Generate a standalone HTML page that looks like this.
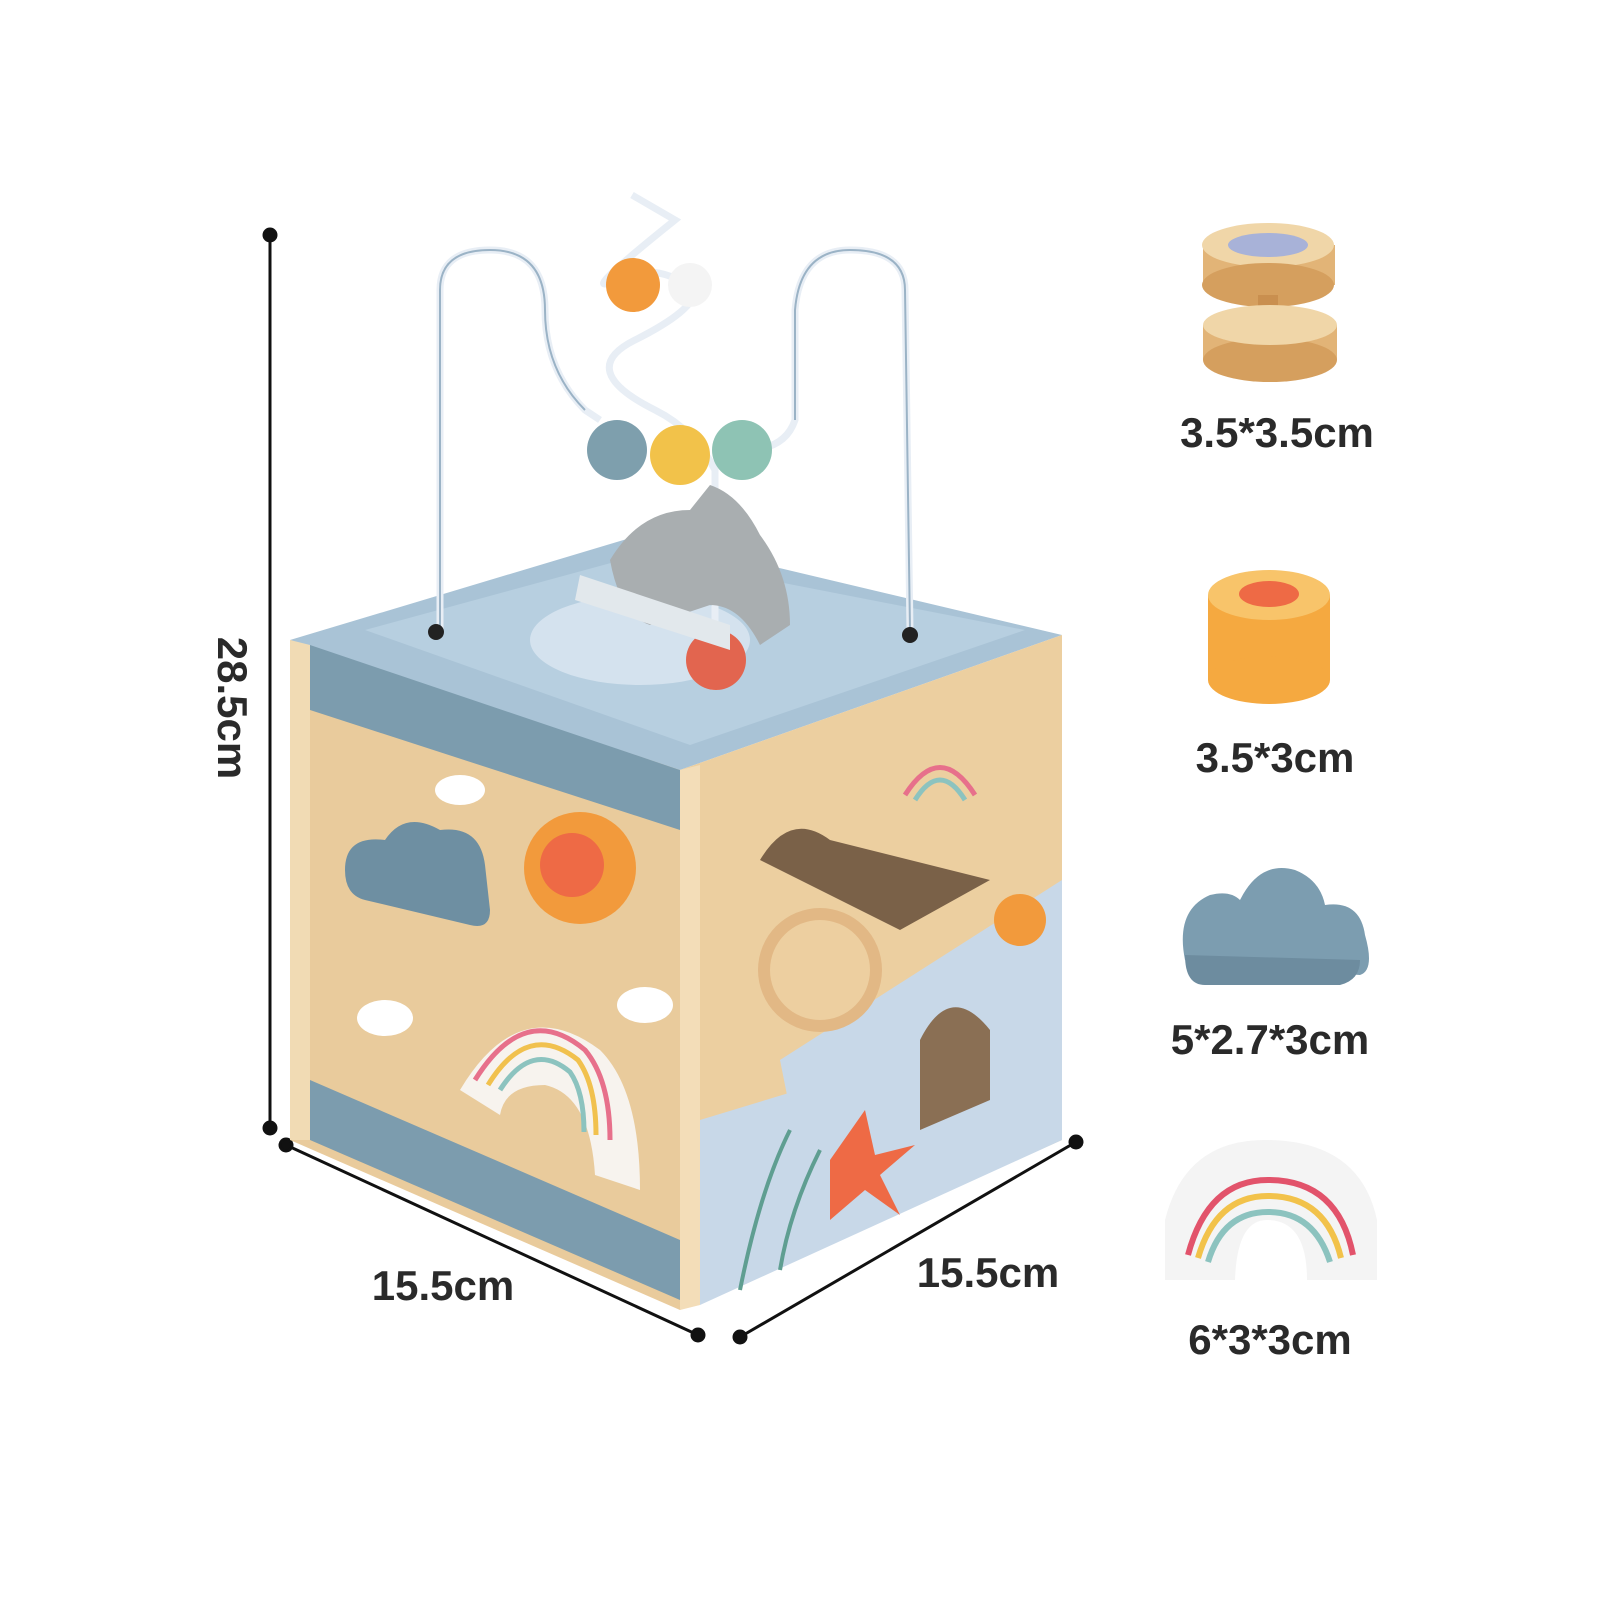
<!DOCTYPE html>
<html><head><meta charset="utf-8"><style>
html,body{margin:0;padding:0;background:#fff;}
svg{display:block;}
text{font-family:"Liberation Sans",sans-serif;font-weight:bold;fill:#2a2a2a;}
</style></head><body>
<svg width="1600" height="1600" viewBox="0 0 1600 1600" xmlns="http://www.w3.org/2000/svg">
<rect width="1600" height="1600" fill="#fff"/>
<g stroke="#111" stroke-width="3" fill="#111">
<line x1="270" y1="235" x2="270" y2="1128"/>
<circle cx="270" cy="235" r="6"/><circle cx="270" cy="1128" r="6"/>
<line x1="286" y1="1145" x2="698" y2="1335"/>
<circle cx="286" cy="1145" r="6"/><circle cx="698" cy="1335" r="6"/>
<line x1="740" y1="1337" x2="1076" y2="1142"/>
<circle cx="740" cy="1337" r="6"/><circle cx="1076" cy="1142" r="6"/>
</g>
<text x="232" y="708" font-size="42" text-anchor="middle" transform="rotate(90 232 708)" dy="14">28.5cm</text>
<text x="443" y="1300" font-size="42" text-anchor="middle">15.5cm</text>
<text x="988" y="1287" font-size="42" text-anchor="middle">15.5cm</text>

<polygon points="290,640 640,535 1062,635 680,770" fill="#a9c3d6"/>
<polygon points="365,630 640,555 1025,630 690,745" fill="#b7cfe0"/>
<ellipse cx="640" cy="640" rx="110" ry="45" fill="#d4e2ee"/>
<polygon points="290,640 680,770 680,1310 290,1140" fill="#e9cb9c"/>
<polygon points="310,645 680,770 680,830 310,710" fill="#7c9cae"/>
<polygon points="310,1080 680,1240 680,1300 310,1140" fill="#7c9cae"/>
<polygon points="290,640 310,645 310,1140 290,1140" fill="#f1dbb4"/>
<path d="M345,870 q0,-35 40,-30 q20,-30 55,-10 q40,-5 45,35 l5,45 q0,20 -20,15 l-105,-25 q-20,-5 -20,-30z" fill="#6e8fa2"/>
<circle cx="580" cy="868" r="56" fill="#f29a3c"/>
<circle cx="572" cy="865" r="32" fill="#ee6a45"/>
<ellipse cx="460" cy="790" rx="25" ry="15" fill="#fff"/>
<ellipse cx="385" cy="1018" rx="28" ry="18" fill="#fff"/>
<ellipse cx="645" cy="1005" rx="28" ry="18" fill="#fff"/>
<path d="M460,1090 q60,-100 140,-40 q40,40 40,140 l-45,-15 q-5,-80 -50,-90 q-40,0 -45,30z" fill="#f7f3ee"/>
<path d="M475,1080 q50,-80 110,-30 q25,30 25,90" fill="none" stroke="#e7708b" stroke-width="5"/>
<path d="M488,1085 q40,-65 90,-25 q18,25 18,75" fill="none" stroke="#f1c14e" stroke-width="5"/>
<path d="M500,1090 q32,-50 70,-18 q14,20 14,60" fill="none" stroke="#8cc3bf" stroke-width="5"/>
<polygon points="680,770 1062,635 1062,1140 680,1310" fill="#eccfa0"/>
<polygon points="700,1120 1062,1010 1062,1140 700,1305" fill="#c8d8e8"/>
<polygon points="780,1060 1062,880 1062,1020 790,1110" fill="#c8d8e8"/>
<polygon points="680,770 700,765 700,1305 680,1310" fill="#f3ddb8"/>
<path d="M760,860 q30,-50 70,-20 l160,40 -90,50z" fill="#7a6148"/>
<path d="M920,1130 l0,-90 q30,-60 70,-10 l0,70z" fill="#8a6f54"/>
<circle cx="820" cy="970" r="62" fill="#e2b885"/>
<circle cx="820" cy="970" r="50" fill="#edcfa0"/>
<path d="M905,795 q35,-55 70,0" fill="none" stroke="#e7708b" stroke-width="5"/>
<path d="M915,800 q25,-40 50,0" fill="none" stroke="#8cc3bf" stroke-width="5"/>
<circle cx="1020" cy="920" r="26" fill="#f29a3c"/>
<path d="M830,1160 l35,-50 l10,45 l40,-10 l-35,30 l20,40 l-35,-25 l-35,30 z" fill="#ee6a45"/>
<path d="M740,1290 q20,-100 50,-160 M780,1270 q10,-60 40,-120" fill="none" stroke="#5f9e91" stroke-width="4"/>
<g fill="none" stroke="#e8eef5" stroke-width="7">
<path d="M440,630 L440,290 q0,-40 50,-40 q55,0 55,60 q0,60 40,100 L600,420"/>
<path d="M910,630 L905,290 q0,-40 -55,-40 q-50,0 -55,60 l0,110 q-10,30 -50,30"/>
<path d="M715,690 L715,470 q-20,-40 -60,-60 q-80,-40 -20,-70 q60,-30 60,-50 q-40,-30 -80,-10 q-40,20 60,-60 L632,195"/>
</g>
<g stroke="#9bb3c6" stroke-width="2" fill="none">
<path d="M440,630 L440,290 q0,-40 50,-40 q55,0 55,60 q0,60 40,100"/>
<path d="M910,630 L905,290 q0,-40 -55,-40 q-50,0 -55,60 l0,110"/>
</g>
<circle cx="617" cy="450" r="30" fill="#7e9fad"/>
<circle cx="680" cy="455" r="30" fill="#f2c24a"/>
<circle cx="742" cy="450" r="30" fill="#8ec3b4"/>
<circle cx="633" cy="285" r="27" fill="#f29a3c"/>
<circle cx="690" cy="285" r="22" fill="#f4f4f4"/>
<circle cx="716" cy="660" r="30" fill="#e2654f"/>
<path d="M610,560 q30,-50 80,-50 l20,-25 q30,10 50,50 q30,40 30,90 l-30,20 q-20,-40 -50,-40 l-60,20 q-30,-10 -40,-65z" fill="#a9aeb0"/>
<path d="M580,575 l150,50 l0,25 l-155,-50z" fill="#e2e8ec"/>
<circle cx="436" cy="632" r="8" fill="#222"/><circle cx="910" cy="635" r="8" fill="#222"/>

<rect x="1203" y="245" width="132" height="40" fill="#e2b477"/>
<ellipse cx="1268" cy="245" rx="66" ry="22" fill="#f0d6a8"/>
<ellipse cx="1268" cy="285" rx="66" ry="22" fill="#d59f5e"/>
<rect x="1258" y="295" width="20" height="30" fill="#c98f4f"/>
<rect x="1203" y="325" width="134" height="35" fill="#e2b477"/>
<ellipse cx="1270" cy="360" rx="67" ry="22" fill="#d59f5e"/>
<ellipse cx="1270" cy="325" rx="67" ry="20" fill="#f0d6a8"/>
<ellipse cx="1268" cy="245" rx="40" ry="12" fill="#a8b2d8"/>
<text x="1277" y="447" font-size="42" text-anchor="middle">3.5*3.5cm</text>

<rect x="1208" y="595" width="122" height="85" fill="#f5a940"/>
<ellipse cx="1269" cy="680" rx="61" ry="24" fill="#f5a940"/>
<ellipse cx="1269" cy="595" rx="61" ry="25" fill="#f8c46a"/>
<ellipse cx="1269" cy="594" rx="30" ry="13" fill="#ee6a45"/>
<text x="1275" y="772" font-size="42" text-anchor="middle">3.5*3cm</text>

<path d="M1185,960 q-10,-50 25,-65 q20,-5 30,5 q20,-40 55,-30 q25,10 30,35 q35,-5 40,30 q10,35 -5,40 l-155,-10 q-15,0 -20,-5z" fill="#7c9db0"/>
<path d="M1185,955 q0,30 20,30 l135,0 q20,-5 20,-25" fill="#6d8c9f"/>
<text x="1270" y="1054" font-size="42" text-anchor="middle">5*2.7*3cm</text>

<path d="M1165,1280 l0,-60 q20,-80 100,-80 q95,0 112,80 l0,60 l-70,0 q0,-60 -40,-60 q-30,0 -32,60z" fill="#f4f4f4"/>
<path d="M1188,1255 q20,-75 80,-75 q70,0 85,75" fill="none" stroke="#e2536b" stroke-width="6"/>
<path d="M1198,1258 q18,-62 70,-62 q58,0 73,62" fill="none" stroke="#f2c24a" stroke-width="6"/>
<path d="M1208,1262 q15,-50 60,-50 q46,0 62,50" fill="none" stroke="#8cc3bf" stroke-width="6"/>
<text x="1270" y="1354" font-size="42" text-anchor="middle">6*3*3cm</text>
</svg>
</body></html>
